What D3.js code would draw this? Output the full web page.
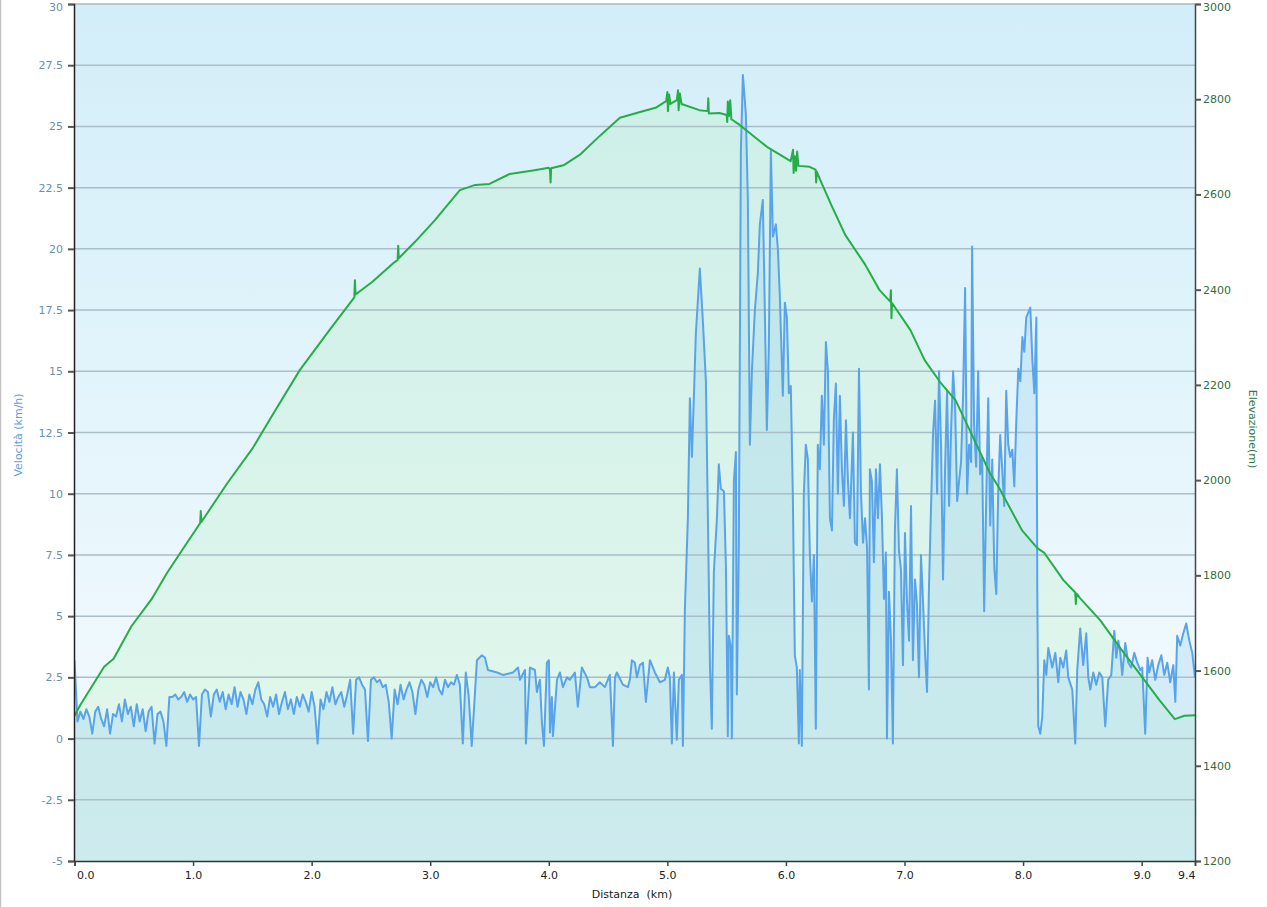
<!DOCTYPE html>
<html>
<head>
<meta charset="utf-8">
<script src="https://cdn.jsdelivr.net/npm/d3@7"></script>
<style>
  body { margin: 0; background: #fff; }
  svg { display: block; font-family: "DejaVu Sans", Verdana, sans-serif; }
</style>
</head>
<body>
<svg id="chart" width="1267" height="907"></svg>
<script>
// ---- data ----
const speedTicks = [-5, -2.5, 0, 2.5, 5, 7.5, 10, 12.5, 15, 17.5, 20, 22.5, 25, 27.5, 30];
const elevTicks = [1200, 1400, 1600, 1800, 2000, 2200, 2400, 2600, 2800, 3000];
const distTicks = [0, 1, 2, 3, 4, 5, 6, 7, 8, 9, 9.45];
const distTickLabels = ["0.0", "1.0", "2.0", "3.0", "4.0", "5.0", "6.0", "7.0", "8.0", "9.0", "9.4"];

// [km, m]
const elevation = [
  [0.00, 1505], [0.05, 1528], [0.25, 1608], [0.33, 1625], [0.48, 1693], [0.65, 1750],
  [0.78, 1805], [0.90, 1850], [1.06, 1910], [1.065, 1935], [1.07, 1912], [1.29, 1994],
  [1.50, 2066], [1.68, 2141], [1.90, 2231], [2.15, 2315], [2.36, 2384], [2.365, 2420],
  [2.37, 2390], [2.51, 2416], [2.60, 2436], [2.70, 2458], [2.725, 2462], [2.73, 2492],
  [2.735, 2466], [2.87, 2500], [3.04, 2546], [3.25, 2609], [3.38, 2620], [3.50, 2622],
  [3.67, 2643], [3.88, 2651], [4.00, 2656], [4.01, 2652], [4.015, 2625], [4.02, 2655],
  [4.13, 2662], [4.26, 2683], [4.43, 2723], [4.60, 2761], [4.77, 2773], [4.90, 2782],
  [4.99, 2796], [5.00, 2815], [5.005, 2775], [5.015, 2810], [5.025, 2790], [5.08, 2798],
  [5.09, 2819], [5.095, 2777], [5.105, 2812], [5.12, 2790], [5.27, 2777], [5.34, 2775],
  [5.345, 2802], [5.35, 2770], [5.44, 2771], [5.50, 2767], [5.505, 2752], [5.51, 2795],
  [5.52, 2765], [5.53, 2798], [5.54, 2758], [5.61, 2746], [5.84, 2700], [6.04, 2670],
  [6.06, 2694], [6.065, 2645], [6.075, 2680], [6.085, 2650], [6.095, 2690], [6.105, 2660],
  [6.20, 2658], [6.25, 2652], [6.255, 2625], [6.26, 2648], [6.29, 2630], [6.39, 2574],
  [6.50, 2515], [6.67, 2452], [6.79, 2399], [6.88, 2375], [6.885, 2399], [6.89, 2340],
  [6.895, 2372], [7.05, 2315], [7.17, 2252], [7.30, 2206], [7.43, 2168], [7.55, 2105],
  [7.72, 2015], [7.80, 1983], [7.99, 1895], [8.12, 1857], [8.18, 1847], [8.34, 1790],
  [8.44, 1764], [8.445, 1740], [8.45, 1762], [8.48, 1752], [8.65, 1706], [8.82, 1647],
  [8.99, 1591], [9.15, 1538], [9.28, 1498], [9.36, 1505], [9.45, 1506]
];

// [km, km/h]
const speed = [
  [0.000, 3.2], [0.025, 0.7], [0.050, 1.1], [0.075, 0.8], [0.100, 1.2], [0.125, 0.9],
  [0.150, 0.2], [0.175, 1.1], [0.200, 1.3], [0.225, 0.8], [0.250, 0.5], [0.275, 1.2],
  [0.300, 0.2], [0.325, 1.0], [0.350, 0.9], [0.375, 1.4], [0.400, 0.7], [0.425, 1.6],
  [0.450, 1.0], [0.475, 1.3], [0.500, 0.5], [0.525, 1.4], [0.550, 0.7], [0.575, 1.2],
  [0.600, 0.3], [0.625, 1.1], [0.650, 1.3], [0.675, -0.2], [0.700, 1.0], [0.725, 1.1],
  [0.750, 0.7], [0.775, -0.3], [0.800, 1.7], [0.825, 1.7], [0.850, 1.8], [0.875, 1.6],
  [0.900, 1.7], [0.925, 1.9], [0.950, 1.5], [0.975, 1.8], [1.000, 1.6], [1.025, 1.7],
  [1.050, -0.3], [1.075, 1.8], [1.100, 2.0], [1.125, 1.9], [1.150, 0.9], [1.175, 1.8],
  [1.200, 2.0], [1.225, 1.5], [1.250, 1.9], [1.275, 1.2], [1.300, 1.8], [1.325, 1.4],
  [1.350, 2.1], [1.375, 1.3], [1.400, 1.9], [1.425, 1.6], [1.450, 1.0], [1.475, 1.8],
  [1.500, 1.4], [1.525, 2.0], [1.550, 2.3], [1.575, 1.6], [1.600, 1.4], [1.625, 0.9],
  [1.650, 1.7], [1.675, 1.3], [1.700, 1.8], [1.725, 1.0], [1.750, 1.5], [1.775, 1.9],
  [1.800, 1.2], [1.825, 1.6], [1.850, 1.0], [1.875, 1.7], [1.900, 1.3], [1.925, 1.8],
  [1.950, 1.5], [1.975, 1.1], [2.000, 1.9], [2.025, 1.3], [2.050, -0.2], [2.075, 1.6],
  [2.100, 1.2], [2.125, 1.9], [2.150, 1.5], [2.175, 2.1], [2.200, 1.4], [2.225, 1.7],
  [2.250, 1.9], [2.275, 1.3], [2.300, 1.8], [2.325, 2.4], [2.350, 0.2], [2.375, 2.4],
  [2.400, 2.5], [2.425, 2.2], [2.450, 2.0], [2.475, -0.1], [2.500, 2.4], [2.525, 2.5],
  [2.550, 2.3], [2.575, 2.4], [2.600, 2.1], [2.625, 2.2], [2.650, 1.5], [2.675, 0.0],
  [2.700, 2.0], [2.725, 1.4], [2.750, 2.2], [2.775, 1.6], [2.800, 2.0], [2.825, 2.3],
  [2.850, 1.9], [2.875, 1.0], [2.900, 2.0], [2.925, 2.4], [2.950, 2.2], [2.975, 1.7],
  [3.000, 2.3], [3.025, 2.1], [3.050, 2.5], [3.075, 2.0], [3.100, 1.8], [3.125, 2.4],
  [3.150, 2.1], [3.175, 2.3], [3.200, 2.2], [3.225, 2.6], [3.250, 2.2], [3.275, -0.2],
  [3.300, 2.7], [3.325, 1.7], [3.350, -0.3], [3.394, 3.2], [3.436, 3.4], [3.462, 3.3],
  [3.487, 2.8], [3.564, 2.7], [3.614, 2.6], [3.698, 2.7], [3.741, 2.9], [3.757, 2.4],
  [3.799, 2.8], [3.807, -0.2], [3.841, 2.9], [3.883, 2.8], [3.900, 1.9], [3.925, 2.4],
  [3.942, 0.65], [3.959, -0.3], [3.984, 3.1], [4.001, 3.2], [4.010, 0.25], [4.026, 1.7],
  [4.035, 0.1], [4.069, 2.4], [4.094, 2.7], [4.119, 2.1], [4.153, 2.5], [4.178, 2.4],
  [4.220, 2.7], [4.245, 1.3], [4.279, 2.9], [4.322, 2.5], [4.347, 2.1], [4.389, 2.1],
  [4.431, 2.3], [4.473, 2.1], [4.515, 2.6], [4.541, -0.3], [4.558, 2.5], [4.574, 2.7],
  [4.625, 2.2], [4.667, 2.1], [4.684, 2.4], [4.701, 3.2], [4.726, 3.1], [4.743, 2.5],
  [4.768, 3.0], [4.794, 3.1], [4.819, 1.5], [4.853, 3.2], [4.895, 2.7], [4.937, 2.3],
  [4.979, 2.4], [5.004, 2.9], [5.021, 2.5], [5.038, -0.2], [5.055, 2.7], [5.080, -0.05],
  [5.097, 2.4], [5.122, 2.6], [5.131, -0.3], [5.148, 5.3], [5.173, 9.0], [5.190, 13.9],
  [5.207, 11.5], [5.224, 14.0], [5.240, 16.5], [5.274, 19.2], [5.300, 17.0], [5.325, 14.6],
  [5.342, 9.0], [5.359, 3.0], [5.375, 0.4], [5.392, 6.8], [5.418, 9.0], [5.434, 11.2],
  [5.451, 10.2], [5.477, 10.1], [5.494, 7.0], [5.510, 0.1], [5.519, 4.2], [5.536, 3.7],
  [5.544, 0.0], [5.561, 10.5], [5.578, 11.7], [5.586, 1.8], [5.603, 8.0], [5.620, 24.0],
  [5.637, 27.1], [5.662, 25.5], [5.679, 22.0], [5.696, 12.0], [5.713, 15.0], [5.738, 17.5],
  [5.763, 19.0], [5.780, 21.0], [5.805, 22.0], [5.822, 17.5], [5.839, 12.6], [5.856, 16.0],
  [5.873, 24.0], [5.890, 20.5], [5.915, 21.0], [5.932, 20.0], [5.949, 18.0], [5.974, 14.0],
  [5.991, 17.8], [6.008, 17.2], [6.025, 14.1], [6.041, 14.4], [6.058, 10.0], [6.075, 3.4],
  [6.092, 2.9], [6.109, -0.2], [6.117, 2.8], [6.134, -0.3], [6.151, 10.0], [6.168, 12.0],
  [6.185, 11.4], [6.202, 7.5], [6.219, 5.6], [6.236, 7.5], [6.252, 0.4], [6.269, 12.0],
  [6.286, 11.0], [6.303, 14.0], [6.320, 12.0], [6.337, 16.2], [6.354, 15.0], [6.371, 9.0],
  [6.388, 8.5], [6.404, 13.0], [6.421, 14.5], [6.438, 10.0], [6.455, 14.0], [6.472, 11.0],
  [6.489, 9.5], [6.506, 13.0], [6.523, 10.5], [6.540, 9.0], [6.556, 11.2], [6.565, 12.5],
  [6.582, 8.0], [6.599, 7.9], [6.616, 15.1], [6.633, 10.0], [6.650, 8.0], [6.667, 9.0],
  [6.684, 7.8], [6.700, 2.0], [6.708, 11.0], [6.725, 10.5], [6.742, 7.2], [6.759, 11.0],
  [6.776, 9.0], [6.793, 11.2], [6.810, 9.0], [6.827, 5.7], [6.843, 7.6], [6.852, 0.0],
  [6.869, 6.0], [6.886, 4.0], [6.902, -0.2], [6.919, 8.5], [6.936, 11.0], [6.953, 7.7],
  [6.970, 6.9], [6.987, 3.0], [7.004, 8.4], [7.021, 5.6], [7.038, 4.0], [7.055, 9.5],
  [7.071, 3.2], [7.088, 6.5], [7.105, 5.5], [7.122, 2.5], [7.139, 7.5], [7.156, 5.6],
  [7.173, 3.5], [7.190, 1.9], [7.207, 6.3], [7.224, 9.5], [7.241, 12.5], [7.258, 13.8],
  [7.275, 10.0], [7.291, 15.0], [7.308, 12.0], [7.325, 6.5], [7.342, 11.0], [7.359, 14.2],
  [7.376, 9.5], [7.393, 12.6], [7.410, 15.0], [7.427, 13.5], [7.444, 9.7], [7.460, 10.5],
  [7.477, 11.3], [7.494, 14.0], [7.511, 18.4], [7.528, 10.0], [7.545, 12.0], [7.562, 11.3],
  [7.570, 20.1], [7.587, 12.8], [7.604, 11.1], [7.621, 15.0], [7.638, 10.8], [7.655, 11.5],
  [7.672, 5.2], [7.689, 9.7], [7.706, 13.9], [7.723, 8.7], [7.740, 11.4], [7.757, 7.0],
  [7.774, 5.9], [7.790, 10.0], [7.807, 12.4], [7.824, 11.0], [7.841, 9.5], [7.858, 14.2],
  [7.875, 12.0], [7.892, 11.5], [7.909, 11.8], [7.926, 10.3], [7.943, 13.0], [7.960, 15.1],
  [7.977, 14.6], [7.994, 16.4], [8.010, 15.8], [8.027, 17.2], [8.061, 17.6], [8.078, 15.5],
  [8.095, 14.1], [8.112, 17.2], [8.120, 6.0], [8.128, 0.5], [8.145, 0.2], [8.162, 0.9],
  [8.179, 3.2], [8.196, 2.6], [8.213, 3.7], [8.246, 2.9], [8.272, 3.5], [8.297, 2.3],
  [8.314, 3.3], [8.339, 2.9], [8.364, 3.6], [8.381, 2.5], [8.415, 2.0], [8.440, -0.2],
  [8.457, 2.8], [8.482, 4.5], [8.507, 3.0], [8.533, 4.3], [8.550, 2.5], [8.567, 2.0],
  [8.592, 2.7], [8.617, 2.2], [8.643, 2.7], [8.668, 2.5], [8.693, 0.5], [8.718, 2.4],
  [8.744, 2.6], [8.769, 4.4], [8.786, 3.3], [8.803, 4.0], [8.820, 3.5], [8.836, 2.6],
  [8.862, 3.9], [8.887, 3.1], [8.912, 2.9], [8.938, 3.5], [8.963, 3.1], [8.988, 2.8],
  [9.005, 2.9], [9.030, 0.2], [9.050, 3.3], [9.064, 2.7], [9.089, 3.2], [9.115, 2.4],
  [9.140, 3.0], [9.166, 3.4], [9.191, 2.6], [9.216, 3.1], [9.241, 2.3], [9.267, 3.0],
  [9.284, 1.5], [9.300, 4.2], [9.326, 3.8], [9.351, 4.3], [9.376, 4.7], [9.402, 4.0],
  [9.427, 3.5], [9.450, 2.5]
];

// ---- layout ----
const plot = { left: 74, right: 1195, top: 4, bottom: 861 };

const svg = d3.select("#chart");

const x = d3.scaleLinear().domain([0, 9.45]).range([74.5, plot.right]);
const ySpeed = d3.scaleLinear().domain([-5, 30]).range([plot.bottom, plot.top]);
const yElev = d3.scaleLinear().domain([1200, 3000]).range([plot.bottom, plot.top]);

// background gradient
const defs = svg.append("defs");
const grad = defs.append("linearGradient")
    .attr("id", "bg")
    .attr("x1", 0).attr("y1", 0)
    .attr("x2", 0).attr("y2", 1);
grad.append("stop").attr("offset", "0%").attr("stop-color", "#d2eef9");
grad.append("stop").attr("offset", "100%").attr("stop-color", "#f7fcfe");

defs.append("clipPath").attr("id", "clip")
  .append("rect")
    .attr("x", plot.left).attr("y", plot.top)
    .attr("width", plot.right - plot.left)
    .attr("height", plot.bottom - plot.top);

// page border on the left
svg.append("line")
    .attr("x1", 0.5).attr("x2", 0.5)
    .attr("y1", 0).attr("y2", 907)
    .style("stroke", "#c4c4c4")
    .style("stroke-width", 1.5);

svg.append("rect")
    .attr("x", plot.left).attr("y", plot.top)
    .attr("width", plot.right - plot.left)
    .attr("height", plot.bottom - plot.top)
    .style("fill", "url(#bg)");

const g = svg.append("g").attr("clip-path", "url(#clip)");

// elevation area
g.append("path")
    .datum(elevation)
    .attr("d", d3.area()
        .x(d => x(d[0]))
        .y0(plot.bottom)
        .y1(d => yElev(d[1])))
    .style("fill", "#bff0c8")
    .style("fill-opacity", 0.32);

// speed area
g.append("path")
    .datum(speed)
    .attr("d", d3.area()
        .x(d => x(d[0]))
        .y0(plot.bottom)
        .y1(d => ySpeed(d[1])))
    .style("fill", "#94cdef")
    .style("fill-opacity", 0.3);

// horizontal grid lines
g.append("g")
    .selectAll("line")
    .data(speedTicks.filter(t => t > -5 && t < 30))
    .enter().append("line")
    .attr("x1", plot.left).attr("x2", plot.right)
    .attr("y1", d => ySpeed(d)).attr("y2", d => ySpeed(d))
    .style("stroke", "#a9bec7")
    .style("stroke-width", 1.5);

// speed line
g.append("path")
    .datum(speed)
    .attr("d", d3.line().x(d => x(d[0])).y(d => ySpeed(d[1])))
    .style("fill", "none")
    .style("stroke", "#59a3ea")
    .style("stroke-width", 2)
    .style("stroke-linejoin", "round");

// elevation line
g.append("path")
    .datum(elevation)
    .attr("d", d3.line().x(d => x(d[0])).y(d => yElev(d[1])))
    .style("fill", "none")
    .style("stroke", "#25ad47")
    .style("stroke-width", 2)
    .style("stroke-linejoin", "round");

// top border
svg.append("line")
    .attr("x1", plot.left).attr("x2", plot.right)
    .attr("y1", plot.top).attr("y2", plot.top)
    .style("stroke", "#aab8bf")
    .style("stroke-width", 1.5);

// left axis
const leftAxis = svg.append("g")
    .attr("transform", `translate(${plot.left},0)`)
    .call(d3.axisLeft(ySpeed)
        .tickValues(speedTicks)
        .tickFormat(d => String(d))
        .tickSize(6)
        .tickPadding(5));
leftAxis.select(".domain").style("stroke", "#222").style("stroke-width", 1.5);
leftAxis.selectAll(".tick line").style("stroke", "#555").style("stroke-width", 2);
leftAxis.selectAll(".tick text")
    .style("fill", "#6a90ab")
    .style("font-size", "11px")
    .style("font-family", '"DejaVu Sans", Verdana, sans-serif')
    .attr("y", d => d === 30 ? 3 : 0);

// right axis
const rightAxis = svg.append("g")
    .attr("transform", `translate(${plot.right},0)`)
    .call(d3.axisRight(yElev)
        .tickValues(elevTicks)
        .tickFormat(d3.format("d"))
        .tickSize(6)
        .tickPadding(2));
rightAxis.select(".domain").style("stroke", "#444").style("stroke-width", 1.5);
rightAxis.selectAll(".tick line").style("stroke", "#555").style("stroke-width", 2);
rightAxis.selectAll(".tick text")
    .style("fill", "#2f6e42")
    .style("font-size", "11px")
    .style("font-family", '"DejaVu Sans", Verdana, sans-serif')
    .attr("y", d => d === 3000 ? 3 : 0);

// bottom axis
const bottomAxis = svg.append("g")
    .attr("transform", `translate(0,${plot.bottom})`)
    .call(d3.axisBottom(x)
        .tickValues(distTicks)
        .tickFormat((d, i) => distTickLabels[i])
        .tickSize(5)
        .tickPadding(5));
bottomAxis.select(".domain").style("stroke", "#333").style("stroke-width", 1.5);
bottomAxis.selectAll(".tick line").style("stroke", "#444").style("stroke-width", 1.5);
bottomAxis.selectAll(".tick text")
    .style("fill", "#222")
    .style("font-size", "11px")
    .style("font-family", '"DejaVu Sans", Verdana, sans-serif')
    .attr("text-anchor", (d, i) => i === 0 ? "start" : (i === distTicks.length - 1 ? "end" : "middle"))
    .attr("dx", (d, i) => i === 0 ? 2 : 0);

// axis titles
svg.append("text")
    .attr("transform", "translate(22,435) rotate(-90)")
    .attr("text-anchor", "middle")
    .style("font-size", "11px")
    .style("fill", "#5b9fd8")
    .text("Velocità (km/h)");

svg.append("text")
    .attr("transform", "translate(1249,429) rotate(90)")
    .attr("text-anchor", "middle")
    .style("font-size", "11px")
    .style("fill", "#2f7a45")
    .text("Elevazione(m)");

svg.append("text")
    .attr("x", 632).attr("y", 898)
    .attr("text-anchor", "middle")
    .style("font-size", "11px")
    .style("fill", "#222")
    .style("white-space", "pre")
    .attr("xml:space", "preserve")
    .text("Distanza  (km)");
</script>
</body>
</html>
